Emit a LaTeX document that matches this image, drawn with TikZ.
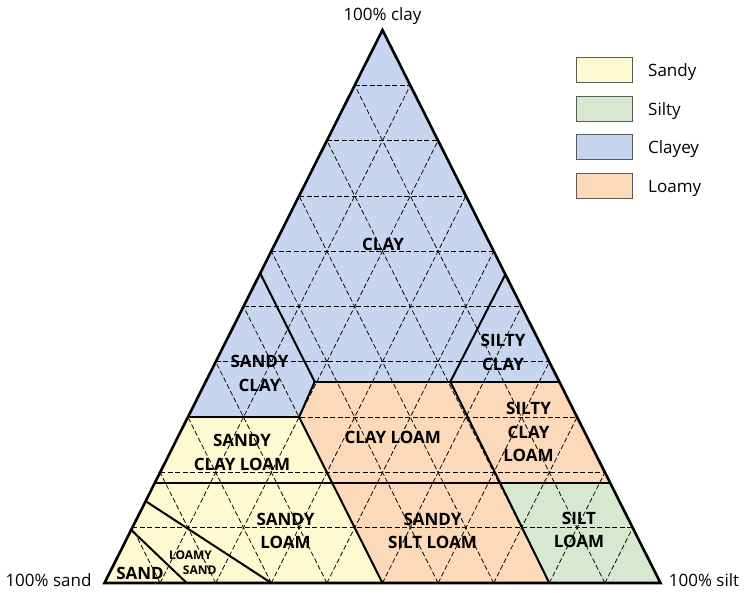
\documentclass[tikz,border=0pt]{standalone}
\usepackage{fontspec}
\setmainfont{Open Sans}
\usetikzlibrary{calc}
\definecolor{sandyc}{HTML}{FFF9D2}
\definecolor{siltyc}{HTML}{D8E8D0}
\definecolor{clayeyc}{HTML}{C8D5EE}
\definecolor{loamyc}{HTML}{FCD9B9}
\begin{document}
\begin{tikzpicture}[x=1pt,y=-1pt,
  gridline/.style={line width=0.75pt, dash pattern=on 5pt off 2.5pt},
  bound/.style={line width=2pt, line join=miter},
  outline/.style={line width=2.6pt, line join=miter},
  cls/.style={font=\fontsize{17}{23.5}\selectfont\bfseries, align=center, inner sep=0pt},
  smallcls/.style={font=\fontsize{12}{14}\selectfont\bfseries, inner sep=0pt},
  corner/.style={font=\fontsize{17}{20}\selectfont, inner sep=0pt, anchor=base},
  keybox/.style={draw=black!65, line width=0.8pt, minimum width=56pt, minimum height=25pt, inner sep=0pt},
  keytext/.style={font=\fontsize{17}{20}\selectfont, anchor=base west, inner sep=0pt}
]
\useasboundingbox (0,0) rectangle (747,592);

% corners of the texture triangle: sand, silt, clay
\coordinate (A) at (104.5,583);
\coordinate (B) at (660.5,583);
\coordinate (C) at (382.5,30);

% class boundary points (barycentric: A = sand, B = silt, C = clay)
\coordinate (L1) at (barycentric cs:A=0.44,C=0.56);
\coordinate (L2) at (barycentric cs:A=0.70,C=0.30);
\coordinate (L3) at (barycentric cs:A=0.82,C=0.18);
\coordinate (L4) at (barycentric cs:A=0.852,C=0.148);
\coordinate (L5) at (barycentric cs:A=0.904,C=0.096);
\coordinate (R1) at (barycentric cs:B=0.442,C=0.558);
\coordinate (R2) at (barycentric cs:B=0.636,C=0.364);
\coordinate (R3) at (barycentric cs:B=0.82,C=0.18);
\coordinate (P1) at (barycentric cs:A=0.44,B=0.196,C=0.364);
\coordinate (P2) at (barycentric cs:A=0.50,B=0.20,C=0.30);
\coordinate (P3) at (barycentric cs:A=0.50,B=0.32,C=0.18);
\coordinate (P4) at (barycentric cs:A=0.196,B=0.44,C=0.364);
\coordinate (P5) at (barycentric cs:A=0.20,B=0.62,C=0.18);
\coordinate (Q1) at (barycentric cs:A=0.50,B=0.50);
\coordinate (Q2) at (barycentric cs:A=0.20,B=0.80);
\coordinate (Q3) at (barycentric cs:A=0.852,B=0.148);
\coordinate (Q4) at (barycentric cs:A=0.70,B=0.30);

% colour groups
\fill[clayeyc] (L2) -- (C) -- (R2) -- (P1) -- (P2) -- cycle;
\fill[sandyc] (A) -- (L2) -- (P2) -- (Q1) -- cycle;
\fill[loamyc] (P2) -- (P1) -- (R2) -- (R3) -- (P5) -- (Q2) -- (Q1) -- cycle;
\fill[siltyc] (P5) -- (R3) -- (B) -- (Q2) -- cycle;

% 10 % grid
\foreach \k in {1,...,9}{
  \draw[gridline] ($(A)!\k/10!(C)$) -- ($(B)!\k/10!(C)$);
  \draw[gridline] ($(A)!\k/10!(B)$) -- ($(A)!\k/10!(C)$);
  \draw[gridline] ($(B)!\k/10!(A)$) -- ($(B)!\k/10!(C)$);
}

% class boundaries
\draw[bound] (L1) -- (P1);
\draw[bound] (R1) -- (P4);
\draw[bound] (P1) -- (R2);
\draw[bound] (L2) -- (P2);
\draw[bound] (P1) -- (P2) -- (Q1);
\draw[bound] (L3) -- (R3);
\draw[bound] (P4) -- (Q2);
\draw[bound] (L4) -- (Q4);
\draw[bound] (L5) -- (Q3);

% outline
\draw[outline] (A) -- (B) -- (C) -- cycle;

% class names
\node[cls] (clay) at (383,244.5) {CLAY};
\node[cls] (sandyclay) at (259.5,373.2) {SANDY\\CLAY};
\node[cls] (siltyclay) at (503,352.2) {SILTY\\CLAY};
\node[cls] (siltyclayloam) at (528.5,432) {SILTY\\CLAY\\LOAM};
\node[cls] (clayloam) at (392.7,437) {CLAY LOAM};
\node[cls] (sandyclayloam) at (242,452.5) {SANDY\\CLAY LOAM};
\node[cls] (sandyloam) at (285.5,531) {SANDY\\LOAM};
\node[cls] (sandysiltloam) at (432.5,531) {SANDY\\SILT LOAM};
\node[cls] (siltloam) at (579,530) {SILT\\LOAM};
\node[cls] (sand) at (140,573.7) {SAND};
\node[smallcls] (loamy) at (190.5,555) {LOAMY};
\node[smallcls] (loamysand) at (199.7,570.5) {SAND};

% corner labels
\node[corner] (topclay) at (382.5,20.7) {100\% clay};
\node[corner] (leftsand) at (48.5,586) {100\% sand};
\node[corner] (rightsilt) at (704,586) {100\% silt};

% key
\node[keybox, fill=sandyc] (k1) at (604.7,69.8) {};
\node[keybox, fill=siltyc] (k2) at (604.7,108.5) {};
\node[keybox, fill=clayeyc] (k3) at (604.7,147.2) {};
\node[keybox, fill=loamyc] (k4) at (604.7,185.8) {};
\node[keytext] (t1) at (648,76.3) {Sandy};
\node[keytext] (t2) at (648,115) {Silty};
\node[keytext] (t3) at (648,153.7) {Clayey};
\node[keytext] (t4) at (648,192.3) {Loamy};
\end{tikzpicture}
\end{document}
